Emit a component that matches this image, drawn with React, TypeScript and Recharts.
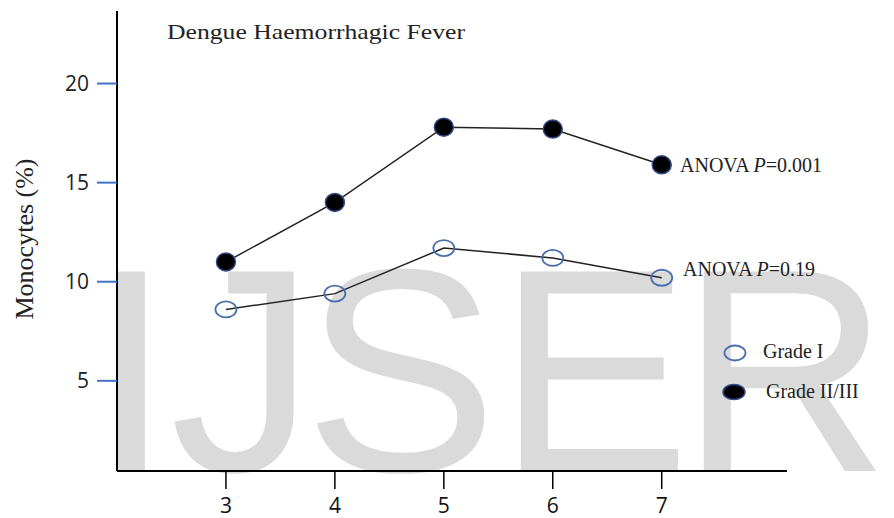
import React from 'react';
import { LineChart, Line, XAxis, YAxis } from 'recharts';

const days = [3, 4, 5, 6, 7];
const gradeI = [8.6, 9.4, 11.7, 11.2, 10.2];
const gradeIIandIII = [11.0, 14.0, 17.8, 17.7, 15.9];
const xTicks = [3, 4, 5, 6, 7];
const yTicks = [5, 10, 15, 20];
const seriesNames = ['Grade I', 'Grade II/III'];
const pValues = ['0.19', '0.001'];
const titleText = 'Dengue Haemorrhagic Fever';
const yLabel = 'Monocytes (%)';
const watermark = 'IJSER';

const data = days.map((d, i) => ({ day: d, g1: gradeI[i], g2: gradeIIandIII[i] }));

const W = 894;
const H = 518;

const serif = '"Liberation Serif", "Times New Roman", serif';

const OpenDot = (props: any) => {
  const { cx, cy, index } = props;
  if (cx == null || cy == null) return null;
  return <ellipse key={`o${index}`} cx={cx} cy={cy} rx={10.5} ry={8} fill="none" stroke="#4a6fae" strokeWidth={1.8} />;
};

const FilledDot = (props: any) => {
  const { cx, cy, index } = props;
  if (cx == null || cy == null) return null;
  return <ellipse key={`f${index}`} cx={cx} cy={cy} rx={9.5} ry={9} fill="#000" stroke="#2f4b8a" strokeWidth={1.5} />;
};

export default function App() {
  return (
    <div style={{ position: 'absolute', left: 0, top: 0, width: W, height: H, background: '#fff', overflow: 'hidden' }}>
      <svg width={W} height={H} style={{ position: 'absolute', left: 0, top: 0 }}>
        <text
          x="91 170 304 497 680"
          y={471}
          fontFamily='"Liberation Sans", Arial, sans-serif'
          fontSize={290}
          fill="#dadada"
        >
          {watermark}
        </text>
      </svg>
      <div style={{ position: 'absolute', left: 0, top: 0 }}>
        <LineChart width={W} height={H} data={data} margin={{ top: 11, right: 107, bottom: 0, left: 0 }}>
          <XAxis
            dataKey="day"
            type="number"
            domain={[2, 8.15]}
            ticks={xTicks}
            allowDataOverflow
            height={47}
            tickSize={18}
            tickMargin={9}
            axisLine={{ stroke: '#000', strokeWidth: 2 }}
            tickLine={{ stroke: '#000', strokeWidth: 1.5 }}
            tick={{ fill: '#111', fontSize: 21, fontFamily: '"Open Sans", sans-serif' }}
          />
          <YAxis
            type="number"
            domain={[0.45, 23.66]}
            ticks={yTicks}
            allowDataOverflow
            width={117}
            tickSize={20}
            tickMargin={8}
            axisLine={{ stroke: '#000', strokeWidth: 2 }}
            tickLine={{ stroke: '#4472c4', strokeWidth: 2 }}
            tick={{ fill: '#222', fontSize: 21, fontFamily: '"Open Sans", sans-serif' }}
          />
          <Line
            dataKey="g1"
            name={seriesNames[0]}
            stroke="#222"
            strokeWidth={1.5}
            dot={OpenDot}
            activeDot={false}
            isAnimationActive={false}
          />
          <Line
            dataKey="g2"
            name={seriesNames[1]}
            stroke="#222"
            strokeWidth={1.5}
            dot={FilledDot}
            activeDot={false}
            isAnimationActive={false}
          />
        </LineChart>
      </div>
      <svg width={W} height={H} style={{ position: 'absolute', left: 0, top: 0, pointerEvents: 'none' }}>
        <text x={167} y={39} fontFamily={serif} fontSize={21} fill="#222" textLength={298} lengthAdjust="spacingAndGlyphs">
          {titleText}
        </text>
        <text
          x={0}
          y={0}
          transform="translate(33,239) rotate(-90)"
          textAnchor="middle"
          fontFamily={serif}
          fontSize={26}
          fill="#222"
        >
          {yLabel}
        </text>
        <text x={680} y={172} fontFamily={serif} fontSize={20} fill="#222">
          <tspan>ANOVA </tspan>
          <tspan fontStyle="italic">P</tspan>
          <tspan>={pValues[1]}</tspan>
        </text>
        <text x={683} y={276} fontFamily={serif} fontSize={20} fill="#222">
          <tspan>ANOVA </tspan>
          <tspan fontStyle="italic">P</tspan>
          <tspan>={pValues[0]}</tspan>
        </text>
        <ellipse cx={735} cy={353} rx={10.5} ry={7.5} fill="none" stroke="#4a6fae" strokeWidth={1.8} />
        <text x={763} y={358} fontFamily={serif} fontSize={20} fill="#222">
          {seriesNames[0]}
        </text>
        <ellipse cx={734} cy={392} rx={11} ry={7.5} fill="#000" stroke="#2f4b8a" strokeWidth={1.5} />
        <text x={766} y={398} fontFamily={serif} fontSize={20} fill="#222">
          {seriesNames[1]}
        </text>
      </svg>
    </div>
  );
}
